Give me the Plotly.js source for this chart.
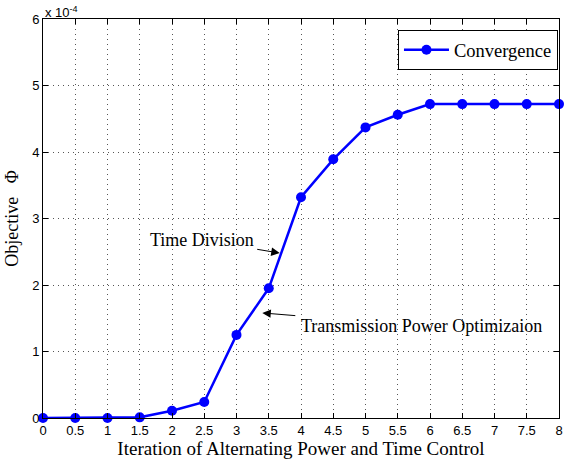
<!DOCTYPE html>
<html>
<head>
<meta charset="utf-8">
<script src="https://cdn.plot.ly/plotly-3.0.1.min.js"></script>
<style>html,body{margin:0;padding:0;background:#fff;}#chart{width:568px;height:460px;}</style>
</head>
<body>
<div id="chart"></div>
<script>
// Iterations
var iterations = [0, 0.5, 1, 1.5, 2, 2.5, 3, 3.5, 4, 4.5, 5, 5.5, 6, 6.5, 7, 7.5, 8];
// Objective values in units of 1e-4
var objective = [0, 0, 0, 0.01, 0.11, 0.24, 1.25, 1.95, 3.32, 3.89, 4.37, 4.56, 4.72, 4.72, 4.72, 4.72, 4.72];
var seriesName = 'Convergence';
var xTitle = 'Iteration of Alternating Power and Time Control';
var yTitle = 'Objective \u00a0\u00a0\u03a6';

var serif = 'Liberation Serif';
var sans = 'Liberation Sans';

var trace = {
  x: iterations, y: objective, type: 'scatter', mode: 'lines+markers', name: seriesName,
  line: {color: '#0000ff', width: 2.5},
  marker: {color: '#0000ff', size: 10},
  cliponaxis: false
};

var axisCommon = {
  showline: true, linecolor: '#000', linewidth: 1, mirror: 'ticks',
  ticks: 'inside', ticklen: 5, tickcolor: '#000',
  showgrid: true, gridcolor: '#555', griddash: '1px,4px', gridwidth: 1,
  zeroline: false, tickfont: {family: sans, size: 13, color: '#000'}
};

var layout = {
  width: 568, height: 460,
  margin: {l: 43, r: 9, t: 19, b: 42},
  paper_bgcolor: '#fff', plot_bgcolor: '#fff',
  showlegend: true,
  legend: {x: 0.998, xanchor: 'right', y: 0.972, yanchor: 'top', bordercolor: '#000', borderwidth: 1,
    bgcolor: '#fff', font: {family: serif, size: 18.5, color: '#000'}, itemwidth: 45},
  xaxis: Object.assign({}, axisCommon, {range: [0, 8], dtick: 0.5, tick0: 0,
    title: {text: xTitle, font: {family: serif, size: 19, color: '#000'}, standoff: 0}}),
  yaxis: Object.assign({}, axisCommon, {range: [0, 6], dtick: 1, tick0: 0,
    title: {text: yTitle, font: {family: serif, size: 18, color: '#000'}, standoff: 8}}),
  annotations: [
    {xref: 'paper', yref: 'paper', x: 0, y: 1, xanchor: 'left', yanchor: 'bottom', yshift: -3,
     text: 'x 10<sup>-4</sup>', showarrow: false, font: {family: sans, size: 13, color: '#000'}},
    {x: 3.67, y: 2.48, xref: 'x', yref: 'y', ax: -78, ay: -13, text: 'Time Division', showarrow: true,
     arrowhead: 2, arrowsize: 1.7, arrowwidth: 1, arrowcolor: '#000', standoff: 0, startstandoff: 2,
     font: {family: serif, size: 18, color: '#000'}},
    {x: 3.40, y: 1.58, xref: 'x', yref: 'y', ax: 159, ay: 13, text: 'Transmission Power Optimizaion', showarrow: true,
     arrowhead: 2, arrowsize: 1.7, arrowwidth: 1, arrowcolor: '#000', standoff: 0, startstandoff: 4,
     font: {family: serif, size: 18, color: '#000'}}
  ]
};

Plotly.newPlot('chart', [trace], layout, {displayModeBar: false, staticPlot: true});
</script>
</body>
</html>
